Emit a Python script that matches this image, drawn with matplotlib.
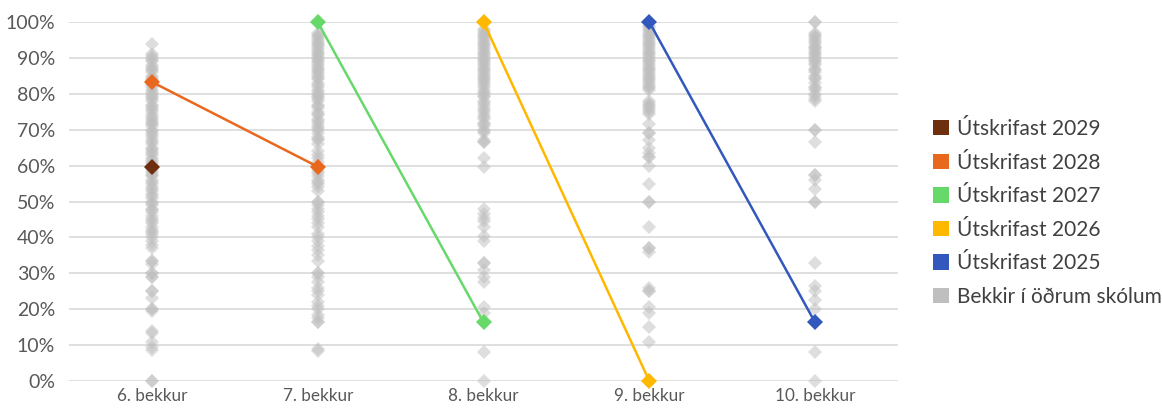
import matplotlib.pyplot as plt
import numpy as np
from matplotlib.patches import Patch

plt.rcParams['font.family'] = ['Lato', 'DejaVu Sans']

bekkir = ['6. bekkur', '7. bekkur', '8. bekkur', '9. bekkur', '10. bekkur']

# dreifing annarra skóla (%)
g6 = [94, 91, 90.5, 90, 89.5, 89, 88, 87.5, 87, 86.5, 86, 85, 84.5, 84, 83.5, 83, 82.5, 82,
      81, 80.5, 80, 79.5, 79, 78.5, 78, 77, 76.5, 76, 75.5, 75, 74, 73.5, 73, 72.5, 72, 71.5,
      71, 70, 69.5, 69, 68.5, 68, 67, 66.5, 66, 65, 64.5, 64, 63.5, 63, 62, 61.5, 61, 60.5,
      60, 59, 58.5, 58, 57.5, 57, 56, 55.5, 55, 54, 53.5, 53, 52, 51.5, 51, 50, 49.5, 49,
      48, 47.5, 47, 46, 45, 44.5, 44, 43, 42, 41.5, 41, 40, 39, 38, 37, 33.5, 33.5, 32.5,
      30, 30, 29, 29, 25, 25, 23, 20, 20, 19.5, 14, 13.5, 11, 9.5, 8.5, 0, 0]
g7 = [97, 96.5, 96, 95.5, 95, 94.5, 94, 93.5, 93, 92.5, 92, 91.5, 91, 90.5, 90, 89.5, 89,
      88.5, 88, 87.5, 87, 86.5, 86, 85.5, 85, 84.5, 84, 83, 82.5, 82, 81, 80.5, 80, 79.5,
      79, 78.5, 78, 77, 76.5, 76, 75, 74.5, 74, 73, 72.5, 72, 71, 70.5, 70, 69, 68, 67.5,
      67, 66, 64, 63, 62, 61, 60, 58.5, 58, 57, 56, 55.5, 55, 54, 53, 50, 50, 49, 48, 47,
      46, 45, 44, 43, 41, 40, 39, 37.5, 36.5, 35, 33.5, 30, 30, 29, 27.5, 26, 25, 24, 22,
      21, 20, 18.5, 17.5, 16.5, 16.5, 8.8, 8.3]
g8 = [98, 97.5, 97, 96.5, 96, 95.5, 95, 94.5, 94, 93.5, 93, 92.5, 92, 91.5, 91, 90.5, 90,
      89.5, 89, 88.5, 88, 87.5, 87, 86.5, 86, 85.5, 85, 84.5, 84, 83.5, 83, 82.5, 82, 81,
      80.5, 80, 79.5, 79, 78, 77.5, 77, 76, 75.5, 75, 74, 73.5, 73, 72, 71.5, 71, 70, 69.5,
      69, 67, 66.5, 66.5, 62, 59.5, 48, 46.5, 45.5, 44.5, 43, 40.5, 39, 33, 33, 31, 29,
      27.5, 20.5, 19, 16.5, 8, 0]
g9 = [99, 98.5, 98, 97.5, 97, 96.5, 96, 95.5, 95, 94.5, 94, 93.5, 93, 92.5, 92, 91.5, 91,
      90.5, 90, 89.5, 89, 88.5, 88, 87.5, 87, 86.5, 86, 85.5, 85, 84.5, 84, 83.5, 83, 82.5,
      82, 81.5, 81, 78, 77.5, 77, 76.5, 76, 75.5, 75, 74.5, 71.5, 69, 69, 67, 65, 63.5,
      62.5, 62.5, 60, 55, 50, 50, 43, 37, 37, 36, 26, 25, 25, 20.5, 19, 15, 11]
g10 = [100, 100, 97, 96.5, 96, 95.5, 95, 94.5, 94, 93, 93, 92.5, 92, 91.5, 91, 90.5, 90,
       89.5, 89, 88.5, 88, 87, 86.5, 86, 85, 84.5, 84, 83, 82, 81.5, 81, 80, 79.5, 78.5, 78,
       70, 70, 66.5, 57.5, 57.5, 56, 53.5, 50, 50, 33, 26.5, 25, 22.5, 20, 8, 0]
adrir = [g6, g7, g8, g9, g10]

# árgangar skólans (%), nan = ekki til
nan = np.nan
utskr_2029 = [59.7, nan, nan, nan, nan]
utskr_2028 = [83.3, 59.7, nan, nan, nan]
utskr_2027 = [nan, 100, 16.3, nan, nan]
utskr_2026 = [nan, nan, 100, 0, nan]
utskr_2025 = [nan, nan, nan, 100, 16.3]

argangar = [('Útskrifast 2029', utskr_2029, '#6E2F0E'),
            ('Útskrifast 2028', utskr_2028, '#E8681E'),
            ('Útskrifast 2027', utskr_2027, '#67D96B'),
            ('Útskrifast 2026', utskr_2026, '#FFB800'),
            ('Útskrifast 2025', utskr_2025, '#3358BD')]
grar = '#BFBFBF'

fig = plt.figure(figsize=(11.62, 4.12), dpi=100)
ax = fig.add_axes([69 / 1162, 31 / 412, 829 / 1162, 359 / 412])

x = np.arange(len(bekkir))
for i, vals in enumerate(adrir):
    ax.plot([x[i]] * len(vals), np.array(vals) / 100, 'D', color=grar, alpha=0.5,
            markersize=7, markeredgewidth=0, clip_on=False, zorder=2)

for nafn, vals, litur in argangar:
    ax.plot(x, np.array(vals) / 100, '-D', color=litur, linewidth=1.8, markersize=8,
            markeredgewidth=0, clip_on=False, zorder=3)

ax.set_xlim(-0.5, 4.5)
ax.set_ylim(0, 1)
ax.set_yticks(np.arange(0, 1.01, 0.1))
ax.set_yticklabels([f'{int(round(v * 100))}%' for v in np.arange(0, 1.01, 0.1)])
ax.set_xticks(x)
ax.set_xticklabels(bekkir)
ax.tick_params(axis='y', length=0, labelsize=14, labelcolor='#595959', pad=10)
ax.tick_params(axis='x', length=0, labelsize=12.3, labelcolor='#595959', pad=5)
ax.grid(axis='y', color='#D9D9D9', linewidth=1.2)
ax.set_axisbelow(True)
for s in ax.spines.values():
    s.set_visible(False)

handles = [Patch(facecolor=litur, edgecolor='none', label=nafn) for nafn, _, litur in argangar]
handles.append(Patch(facecolor=grar, edgecolor='none', label='Bekkir í öðrum skólum'))
ax.legend(handles=handles, loc='center left', bbox_to_anchor=(1.02, 0.468), frameon=False,
          fontsize=15, labelcolor='#404040', handlelength=0.75, handleheight=0.75,
          handletextpad=0.4, labelspacing=0.65)

fig.savefig('out.png', dpi=100)
